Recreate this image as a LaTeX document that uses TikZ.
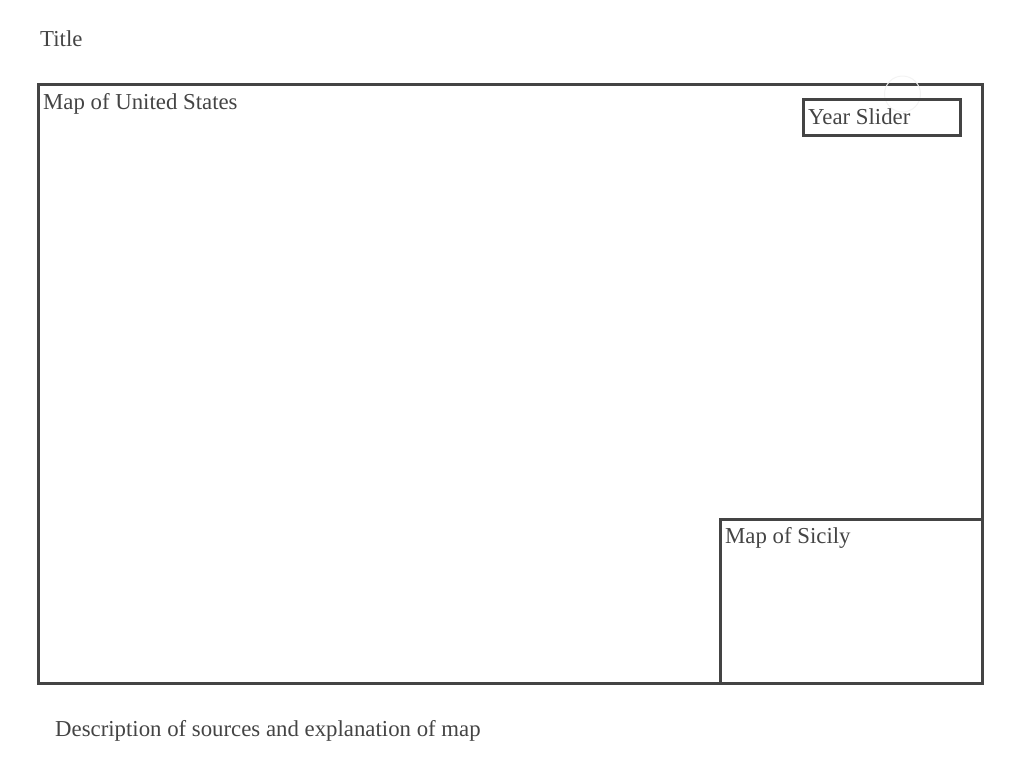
\documentclass[tikz,border=0pt]{standalone}
\usepackage{fontspec}
\setmainfont{Liberation Serif}
\definecolor{inkgray}{HTML}{444444}
\definecolor{ghostgray}{HTML}{F3F3F3}
\tikzset{
    panel/.style={draw=inkgray, line width=3pt},
    caption/.style={anchor=base west, inner sep=0pt, text=inkgray, font=\fontsize{22.8}{27}\selectfont}
}
\begin{document}
\begin{tikzpicture}[x=1pt, y=-1pt]
            \useasboundingbox (0,0) rectangle (1026,780);
            \draw[panel] (38.5,84.5) -- (982.5,84.5) -- (982.5,683.5) -- (38.5,683.5) -- cycle;
            \draw[panel] (720.5,683.5) -- (720.5,519.5) -- (982.5,519.5);
            \draw[ghostgray, line width=1pt] (902.5,94) circle (18);
            \draw[panel] (803.8,99.7) -- (960.5,99.7) -- (960.5,135.8) -- (803.8,135.8) -- cycle;
            \node[caption] (title) at (40,46) {Title};
            \node[caption] (usmap) at (43,109) {Map of United States};
            \node[caption] (slider) at (808,124) {Year Slider};
            \node[caption] (sicily) at (725,543) {Map of Sicily};
            \node[caption] (sources) at (55,736) {Description of sources and explanation of map};
        \end{tikzpicture}
\end{document}
